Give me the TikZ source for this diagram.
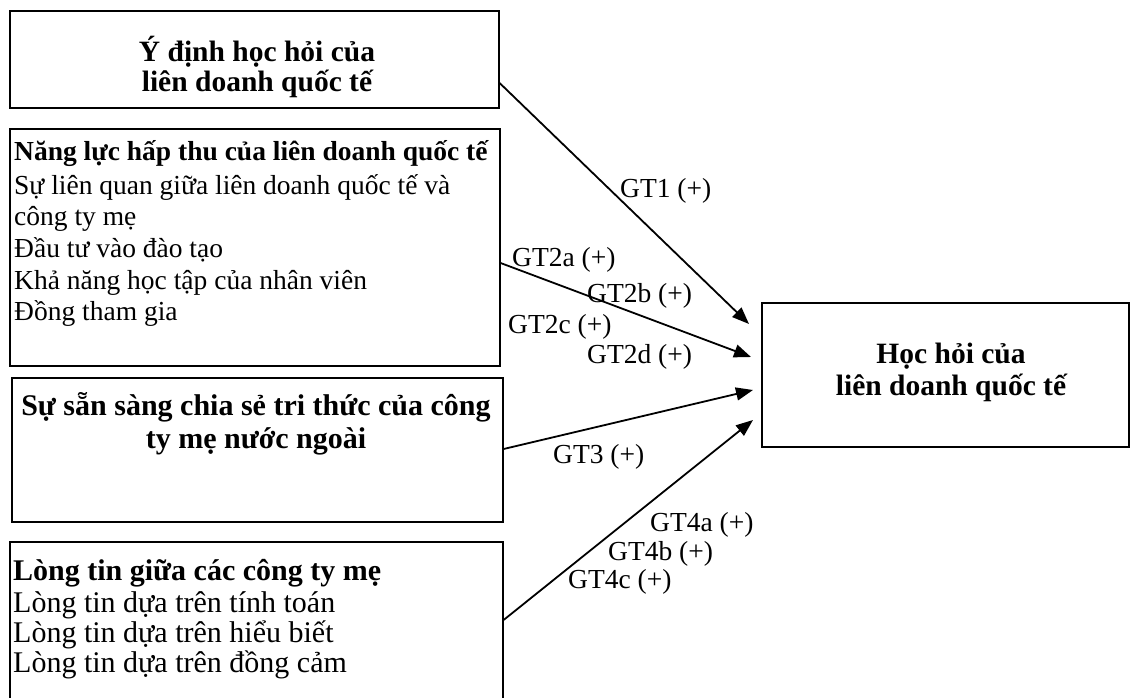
\documentclass[tikz,border=0pt]{standalone}
\usepackage{fontspec}
\setmainfont{Liberation Serif}
\usetikzlibrary{arrows.meta}
\begin{document}
\begin{tikzpicture}[x=1pt,y=-1pt,
  box/.style={draw, line width=1.6pt, anchor=north west, inner sep=0pt},
  line/.style={inner sep=0pt, font=\fontsize{27.5}{32}\selectfont},
  big/.style={inner sep=0pt, font=\fontsize{30}{32}\selectfont},
  left line/.style={line, anchor=base west},
  mid line/.style={line, anchor=base},
  head/.style={font=\fontsize{27.5}{32}\selectfont\bfseries},
  title/.style={inner sep=0pt, anchor=base, font=\fontsize{29.5}{32}\selectfont\bfseries},
  big head/.style={font=\fontsize{30}{32}\selectfont\bfseries},
  lab/.style={line, anchor=base west},
  arr/.style={line width=1.8pt, -{Triangle[length=17pt,width=13pt]}}
]
\useasboundingbox (0,0) rectangle (1137,698);

% boxes
\node[box, minimum width=489pt, minimum height=97pt]  (b1) at (9,10) {};
\node[box, minimum width=490pt, minimum height=237pt] (b2) at (9,128) {};
\node[box, minimum width=491pt, minimum height=144pt] (b3) at (11,377) {};
\node[box, minimum width=493pt, minimum height=170pt] (b4) at (9,541) {};
\node[box, minimum width=367pt, minimum height=144pt] (b5) at (761,302) {};

% intention to learn
\node[title] (b1l1) at (257,62) {Ý định học hỏi của};
\node[title] (b1l2) at (257,92) {liên doanh quốc tế};

% absorptive capacity
\node[left line, head] (b2l1) at (14,160) {Năng lực hấp thu của liên doanh quốc tế};
\node[left line] (b2l2) at (14,194) {Sự liên quan giữa liên doanh quốc tế và};
\node[left line] (b2l3) at (14,225) {công ty mẹ};
\node[left line] (b2l4) at (14,257) {Đầu tư vào đào tạo};
\node[left line] (b2l5) at (14,289) {Khả năng học tập của nhân viên};
\node[left line] (b2l6) at (14,320) {Đồng tham gia};

% willingness to share
\node[big, anchor=base, big head] (b3l1) at (256,415) {Sự sẵn sàng chia sẻ tri thức của công};
\node[big, anchor=base, big head] (b3l2) at (256,448) {ty mẹ nước ngoài};

% trust
\node[big, anchor=base west, big head] (b4l1) at (13,580) {Lòng tin giữa các công ty mẹ};
\node[big, anchor=base west] (b4l2) at (13,612) {Lòng tin dựa trên tính toán};
\node[big, anchor=base west] (b4l3) at (13,642) {Lòng tin dựa trên hiểu biết};
\node[big, anchor=base west] (b4l4) at (13,672) {Lòng tin dựa trên đồng cảm};

% outcome
\node[title] (b5l1) at (951,363) {Học hỏi của};
\node[title] (b5l2) at (951,395) {liên doanh quốc tế};

% arrow ends in front of the outcome box
\coordinate (t1) at (749,324);
\coordinate (t2) at (751,357);
\coordinate (t3) at (753,390);
\coordinate (t4) at (753,420);

\draw[arr] (b1.east |- 0,83)  -- (t1);
\draw[arr] (b2.east |- 0,263) -- (t2);
\draw[arr] (b3.east |- 0,449) -- (t3);
\draw[arr] (b4.east |- 0,620) -- (t4);

% hypothesis labels
\node[lab] (g1)  at (620,197) {GT1 (+)};
\node[lab] (g2a) at (512,266) {GT2a (+)};
\node[lab] (g2b) at (587,302) {GT2b (+)};
\node[lab] (g2c) at (508,333) {GT2c (+)};
\node[lab] (g2d) at (587,363) {GT2d (+)};
\node[lab] (g3)  at (553,463) {GT3 (+)};
\node[lab] (g4a) at (650,531) {GT4a (+)};
\node[lab] (g4b) at (608,560) {GT4b (+)};
\node[lab] (g4c) at (568,588) {GT4c (+)};
\end{tikzpicture}
\end{document}
